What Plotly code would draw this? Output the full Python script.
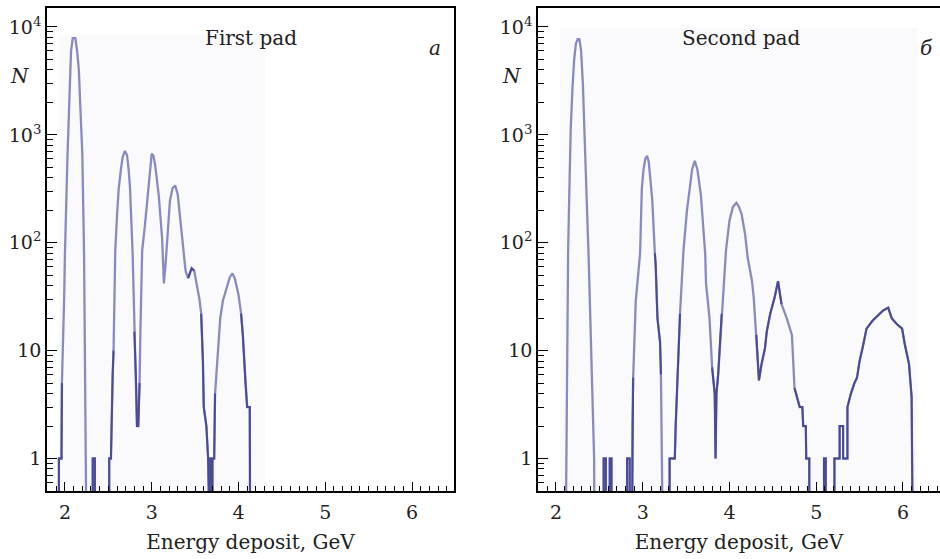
import plotly.graph_objects as go
import numpy as np

# ---------------- data ----------------
# zero-count bins are given as 0.1 (below the axis floor of 0.5)
E_first = [1.93, 1.93, 1.96, 1.965, 1.99, 2.0, 2.03, 2.05, 2.07, 2.09, 2.12, 2.14, 2.16, 2.175, 2.2, 2.22,
           2.23, 2.25,
           2.32, 2.32, 2.345, 2.345,
           2.51, 2.51, 2.53, 2.54, 2.55, 2.56, 2.58, 2.6, 2.62, 2.645, 2.665, 2.69, 2.715, 2.735, 2.75,
           2.78, 2.8, 2.81, 2.82, 2.83, 2.845, 2.86, 2.87, 2.89, 2.92, 2.95, 2.97, 2.985, 3.0, 3.02,
           3.04, 3.06, 3.08, 3.12, 3.14, 3.16, 3.18, 3.21, 3.24, 3.27, 3.3, 3.32, 3.34, 3.36, 3.39,
           3.42, 3.46, 3.49, 3.52, 3.55, 3.57, 3.58, 3.59, 3.6, 3.63, 3.65,
           3.655, 3.675, 3.675, 3.69, 3.69, 3.7, 3.7, 3.72, 3.73, 3.76, 3.79, 3.82, 3.86, 3.9, 3.93, 3.96,
           4.0, 4.03, 4.05, 4.08, 4.1, 4.13, 4.135]
N_first = [0.1, 1, 1, 5, 29, 80, 670, 2500, 6000, 7900, 7900, 6000, 4000, 2000, 670, 80,
           20, 0.1,
           0.1, 1, 1, 0.1,
           0.1, 1, 1, 4, 6, 10, 85, 180, 320, 480, 620, 710, 650, 470, 320,
           80, 15, 10, 5, 2, 2, 5, 16, 85, 140, 250, 375, 560, 670, 640,
           520, 380, 280, 110, 42, 64, 120, 245, 320, 340, 280, 200, 140, 90, 55,
           47, 58, 55, 40, 30, 22, 14, 8, 3, 2, 1,
           0.1, 0.1, 1, 1, 0.1, 0.1, 1, 1, 4, 10, 20, 29, 38, 48, 52, 46,
           33, 22, 14, 5, 3, 3, 0.1]

E_second = [2.11, 2.125, 2.14, 2.155, 2.17, 2.19, 2.21, 2.23, 2.25, 2.27, 2.29, 2.31, 2.33, 2.355, 2.375,
            2.385, 2.41, 2.44, 2.445,
            2.55, 2.55, 2.575, 2.575, 2.62, 2.62, 2.64, 2.64, 2.82, 2.82, 2.85, 2.85,
            2.875, 2.88, 2.89, 2.92, 2.97, 2.99, 3.01, 3.03, 3.05, 3.07, 3.09, 3.11, 3.14, 3.15, 3.17,
            3.2, 3.21, 3.23, 3.235, 3.31, 3.31, 3.37, 3.38, 3.43, 3.47, 3.51, 3.54, 3.57, 3.6, 3.63,
            3.67, 3.72, 3.73, 3.77, 3.8, 3.83, 3.84, 3.85, 3.87, 3.91, 3.96, 4.0, 4.04, 4.08, 4.11,
            4.14, 4.18, 4.21, 4.26, 4.28,
            4.31, 4.33, 4.34, 4.37, 4.41, 4.43, 4.47, 4.52, 4.56, 4.6, 4.66, 4.72, 4.75, 4.81, 4.84,
            4.85, 4.88, 4.885, 4.92, 4.92, 5.09, 5.09, 5.11, 5.11, 5.21, 5.21, 5.27, 5.27, 5.31, 5.31,
            5.36, 5.36, 5.4, 5.44, 5.47, 5.5, 5.54, 5.58, 5.65, 5.73, 5.77, 5.83, 5.87, 5.93, 5.99,
            6.02, 6.07, 6.1, 6.11, 6.115]
N_second = [0.1, 3, 80, 320, 1100, 2700, 5000, 7000, 7700, 7700, 6000, 3000, 1100, 320, 80,
            42, 8.6, 1, 0.1,
            0.1, 1, 1, 0.1, 0.1, 1, 1, 0.1, 0.1, 1, 1, 0.1,
            0.1, 2, 5.6, 29, 80, 320, 480, 600, 640, 560, 400, 250, 80, 61, 20,
            12, 6, 1, 0.1, 0.1, 1, 1, 2, 22, 85, 200, 320, 480, 575, 480,
            280, 80, 42, 20, 7, 4, 1, 4, 6, 22, 85, 160, 215, 235, 215,
            185, 120, 73, 44, 31,
            14, 7.5, 5.3, 7.5, 10.6, 15, 22, 31, 44, 27, 20, 14, 4.5, 3, 3,
            2, 2, 1, 1, 0.1, 0.1, 1, 1, 0.1, 0.1, 1, 1, 2, 2, 1,
            1, 3, 4, 5, 5.6, 8, 11, 16, 19, 22, 23.5, 25, 20, 17.6, 16,
            11.6, 7.5, 3.7, 1, 0.1]

# energy ranges drawn in the darker ink
dark_first = [(1.92, 1.965), (2.31, 2.35), (2.5, 2.56), (2.8, 2.86), (3.4, 3.5), (3.57, 3.75), (4.03, 4.14)]
dark_second = [(2.54, 2.65), (2.81, 2.9), (3.14, 3.22), (3.3, 3.38), (3.42, 3.44), (3.8, 3.91),
               (4.3, 4.6), (4.74, 4.93), (5.08, 6.12)]

x_ticks = [2, 3, 4, 5, 6]
x_ticktext = ["2", "3", "4", "5", "6"]
y_ticks = [1, 10, 100, 1000, 10000]
y_ticktext = ["1", "10", "10<sup>2</sup>", "10<sup>3</sup>", "10<sup>4</sup>"]
y_minor = [m * 10 ** d for d in range(-1, 4) for m in range(2, 10) if 0.5 <= m * 10 ** d <= 15000]

# ---------------- figure ----------------
W, H = 940, 559
FONT = "DejaVu Serif"
LIGHT = "#8a8ac2"
DARK = "#4a4a96"

fig = go.Figure()


def dark_part(E, N, ranges):
    out = []
    for e, n in zip(E, N):
        inside = any(a <= e <= b for a, b in ranges)
        out.append(n if inside else None)
    return out


panels = [
    (E_first, N_first, dark_first, "x", "y"),
    (E_second, N_second, dark_second, "x2", "y2"),
]
for E, N, dr, xa, ya in panels:
    fig.add_trace(go.Scatter(x=E, y=N, mode="lines", line=dict(color=LIGHT, width=2.3),
                             xaxis=xa, yaxis=ya, showlegend=False, hoverinfo="skip"))
    fig.add_trace(go.Scatter(x=E, y=dark_part(E, N, dr), mode="lines",
                             line=dict(color=DARK, width=2.0), connectgaps=False,
                             xaxis=xa, yaxis=ya, showlegend=False, hoverinfo="skip"))

y_lo, y_hi = np.log10(0.5), 4.176
x0_l, x1_l = 47 / W, 454 / W
x0_r, x1_r = 538 / W, 1.0
yd = [1 - 491 / H, 1 - 8 / H]

xcommon = dict(showline=True, linecolor="black", linewidth=1.5, mirror=True,
               ticks="inside", ticklen=9, tickwidth=1.2, tickcolor="black",
               tickvals=x_ticks, ticktext=x_ticktext, showgrid=False, zeroline=False,
               ticklabelstandoff=3,
               tickfont=dict(family=FONT, size=19, color="#222"),
               minor=dict(ticks="inside", dtick=0.1, tick0=0, ticklen=5, tickwidth=1, tickcolor="black",
                          showgrid=False),
               title=dict(text="Energy deposit, GeV", font=dict(family=FONT, size=20, color="#222"),
                          standoff=13))
ycommon = dict(type="log", range=[y_lo, y_hi], showline=True, linecolor="black", linewidth=1.5,
               ticks="inside", ticklen=10, tickwidth=1.2, tickcolor="black",
               tickvals=y_ticks, ticktext=y_ticktext, showgrid=False, zeroline=False,
               tickfont=dict(family=FONT, size=19, color="#222"),
               minor=dict(ticks="inside", tickvals=y_minor, ticklen=6, tickwidth=1, tickcolor="black",
                          showgrid=False))

fig.update_layout(
    width=W, height=H, margin=dict(l=0, r=0, t=0, b=0),
    paper_bgcolor="white", plot_bgcolor="white",
    font=dict(family=FONT),
    xaxis=dict(domain=[x0_l, x1_l], range=[1.793, 6.484], anchor="y", **xcommon),
    yaxis=dict(domain=yd, anchor="x", mirror=True, **ycommon),
    xaxis2=dict(domain=[x0_r, x1_r], range=[1.793, 6.427], anchor="y2", **xcommon),
    yaxis2=dict(domain=yd, anchor="x2", mirror=False, **ycommon),
)

# faint scanned background patches behind the data
fig.add_shape(type="rect", xref="x", yref="paper", x0=1.93, x1=4.31, y0=yd[0], y1=1 - 35 / H,
              fillcolor="#fafafd", line=dict(width=0), layer="below")
fig.add_shape(type="rect", xref="x2", yref="paper", x0=2.05, x1=6.17, y0=yd[0], y1=1 - 28 / H,
              fillcolor="#fafafd", line=dict(width=0), layer="below")

ann_font = dict(family=FONT, size=20, color="#222")
for txt, x, y, ital in [("First pad", 251, 38, False), ("a", 435, 48, True),
                        ("Second pad", 741, 38, False), ("б", 926, 48, True),
                        ("N", 20, 76, True), ("N", 512, 76, True)]:
    fig.add_annotation(text=f"<i>{txt}</i>" if ital else txt, x=x / W, y=1 - y / H,
                       xref="paper", yref="paper", showarrow=False, xanchor="center",
                       yanchor="middle", font=ann_font)

fig.write_html("out.html")
